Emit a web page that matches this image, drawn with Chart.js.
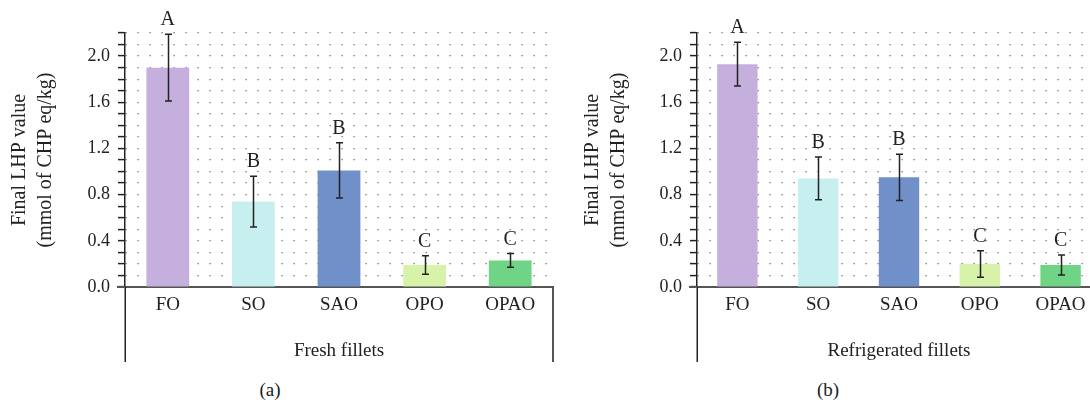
<!DOCTYPE html>
<html>
<head>
<meta charset="utf-8">
<script src="https://cdn.jsdelivr.net/npm/chart.js@4.4.1/dist/chart.umd.min.js"></script>
<style>
  html, body { margin: 0; padding: 0; background: #fff; width: 1090px; height: 400px; overflow: hidden; }
  canvas { position: absolute; top: 0; }
  #chartA { left: 0; }
  #chartB { left: 560px; }
  .panel { position: absolute; top: 379px; width: 40px; text-align: center;
           font: 19px 'Liberation Serif', 'DejaVu Serif', serif; line-height: 22px; color: #222; }
</style>
</head>
<body>
<canvas id="chartA" width="560" height="370"></canvas>
<canvas id="chartB" width="548" height="370"></canvas>
<div class="panel" style="left:250px">(a)</div>
<div class="panel" style="left:808px">(b)</div>
<script>
// Oil treatments
const categories = ['FO', 'SO', 'SAO', 'OPO', 'OPAO'];

// Fresh fillets: mean final LHP value, standard deviation, significance group
const freshMeans   = [1.90, 0.74, 1.01, 0.19, 0.23];
const freshErrors  = [0.29, 0.22, 0.24, 0.08, 0.06];
const freshLetters = ['A', 'B', 'B', 'C', 'C'];

// Refrigerated fillets
const chilledMeans   = [1.93, 0.94, 0.95, 0.20, 0.19];
const chilledErrors  = [0.19, 0.185, 0.20, 0.115, 0.087];
const chilledLetters = ['A', 'B', 'B', 'C', 'C'];

// Value axis
const yMin = 0;
const yMax = 2.2;
const yMinorStep = 0.1;
const yLabelStep = 0.4;

const barColors = ['#c5afdc', '#c8eff0', '#7190c9', '#d7f3a9', '#6fd485'];
const SERIF = "'Liberation Serif', 'DejaVu Serif', serif";
const INK = '#222';

// Error bars with caps, plus the group letter above each bar
const errorBars = {
  id: 'errorBars',
  afterDatasetsDraw(chart, args, opts) {
    const { ctx, scales: { y } } = chart;
    const bars = chart.getDatasetMeta(0).data;
    ctx.save();
    ctx.strokeStyle = INK;
    ctx.lineWidth = 1.5;
    ctx.fillStyle = INK;
    ctx.font = '20px ' + SERIF;
    ctx.textAlign = 'center';
    ctx.textBaseline = 'alphabetic';
    opts.means.forEach((m, i) => {
      const px = Math.round(bars[i].x) + 0.5;
      const hi = y.getPixelForValue(m + opts.errors[i]);
      const lo = y.getPixelForValue(m - opts.errors[i]);
      ctx.beginPath();
      ctx.moveTo(px, hi); ctx.lineTo(px, lo);
      ctx.moveTo(px - 3.5, hi); ctx.lineTo(px + 3.5, hi);
      ctx.moveTo(px - 3.5, lo); ctx.lineTo(px + 3.5, lo);
      ctx.stroke();
      ctx.fillText(opts.letters[i], bars[i].x, hi - 9);
    });
    ctx.restore();
  }
};

// Bracket lines framing the category labels under each panel
const frame = {
  id: 'frame',
  afterDraw(chart, args, opts) {
    const { ctx, chartArea: a } = chart;
    ctx.save();
    ctx.lineWidth = 1.5;
    ctx.strokeStyle = INK;
    ctx.beginPath();
    ctx.moveTo(Math.round(a.left) + 0.25, a.bottom);
    ctx.lineTo(Math.round(a.left) + 0.25, opts.bottom);
    ctx.stroke();
    ctx.lineWidth = 2;
    ctx.strokeStyle = '#555';
    ctx.beginPath();
    ctx.moveTo(a.left - 8, Math.round(a.bottom));
    ctx.lineTo(a.left, Math.round(a.bottom));
    ctx.stroke();
    if (opts.right) {
      ctx.beginPath();
      ctx.moveTo(Math.round(a.right), a.bottom);
      ctx.lineTo(Math.round(a.right), opts.bottom);
      ctx.stroke();
    }
    ctx.restore();
  }
};

function isLabelled(v) {
  const r = v / yLabelStep;
  return Math.abs(r - Math.round(r)) < 1e-6;
}

function makeChart(id, means, errors, letters, groupTitle, yAxisWidth, titlePad, padRight, closeRight) {
  return new Chart(document.getElementById(id), {
    type: 'bar',
    data: {
      labels: categories,
      datasets: [{
        data: means,
        backgroundColor: barColors,
        borderWidth: 0,
        categoryPercentage: 1,
        barPercentage: 0.5
      }]
    },
    options: {
      responsive: false,
      animation: false,
      events: [],
      layout: { padding: { top: 33, right: padRight, left: 0, bottom: 0 } },
      plugins: {
        legend: { display: false },
        tooltip: { enabled: false },
        errorBars: { means, errors, letters },
        frame: { bottom: 362, right: closeRight }
      },
      scales: {
        x: {
          afterFit(s) { s.height = 83; },
          border: { display: true, color: '#555', width: 2 },
          grid: { display: false, drawTicks: false },
          ticks: { color: INK, font: { family: SERIF, size: 19 }, padding: 7, maxRotation: 0, autoSkip: false },
          title: {
            display: true, text: groupTitle, color: INK,
            font: { family: SERIF, size: 19 }, padding: { top: 0, bottom: 8 }
          }
        },
        y: {
          min: yMin,
          max: yMax,
          afterFit(s) { s.width = yAxisWidth; },
          border: { display: true, color: INK, width: 1.5, dash: [1.2, 10.8] },
          grid: {
            color: '#666', lineWidth: 1.2,
            drawTicks: true, tickLength: 7, tickColor: INK, tickWidth: 1.5, tickBorderDash: []
          },
          ticks: {
            stepSize: yMinorStep, maxTicksLimit: 40, autoSkip: false,
            padding: 8, color: INK, font: { family: SERIF, size: 18 },
            callback: v => isLabelled(v) ? v.toFixed(1) : ''
          },
          title: {
            display: true, text: ['Final LHP value', '(mmol of CHP eq/kg)'], color: INK,
            font: { family: SERIF, size: 20, lineHeight: 1.3 }, padding: { top: titlePad, bottom: 0 }
          }
        }
      }
    },
    plugins: [errorBars, frame]
  });
}

makeChart('chartA', freshMeans, freshErrors, freshLetters, 'Fresh fillets', 125, 7, 7, true);
makeChart('chartB', chilledMeans, chilledErrors, chilledLetters, 'Refrigerated fillets', 137, 20, 7, false);
</script>
</body>
</html>
